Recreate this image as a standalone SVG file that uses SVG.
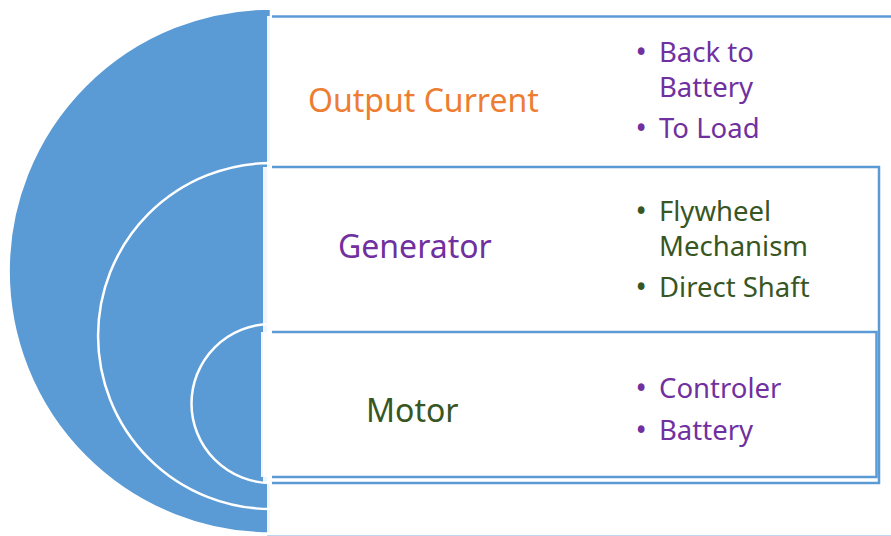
<svg xmlns="http://www.w3.org/2000/svg" width="891" height="536" viewBox="0 0 891 536">
  <style>
    .arc { fill: #5b9bd5; stroke: #ffffff; stroke-width: 2.5; }
    .panel { fill: #ffffff; fill-opacity: 0.9; stroke: none; }
    .edge { fill: none; stroke: #5b9bd5; stroke-width: 2.5; }
    .faint { fill: none; stroke: #bdd7ee; stroke-width: 1; }
    .title { font-family: "Noto Sans", "Open Sans", sans-serif; font-size: 32px; }
    .item { font-family: "Noto Sans", "Open Sans", sans-serif; font-size: 27.5px; }
    .dot { font-family: "Noto Sans", "Open Sans", sans-serif; font-size: 30px; }
    .orange { fill: #ed7d31; }
    .purple { fill: #7030a0; }
    .green { fill: #375623; }
  </style>
  <rect width="891" height="536" fill="#ffffff"/>
  <g id="arcs">
    <path id="arc-outer" class="arc" d="M 271 8.5 A 262.5 262.5 0 0 0 271 533.5 Z"/>
    <path id="arc-middle" class="arc" d="M 271 163 A 173 173 0 0 0 271 509 Z"/>
    <path id="arc-inner" class="arc" d="M 271 324 A 79.5 79.5 0 0 0 271 483 Z"/>
  </g>
  <g id="node-output">
    <rect class="panel" x="267" y="16" width="640" height="522"/>
    <path class="edge" d="M 272 16.5 H 900"/>
    <path class="faint" d="M 267 535.5 H 900"/>
    <text class="title orange" x="308" y="111.5">Output Current</text>
    <text class="dot purple" x="635.5" y="63">•</text>
    <text class="item purple" x="659" y="62">Back to</text>
    <text class="item purple" x="659" y="97">Battery</text>
    <text class="dot purple" x="635.5" y="139">•</text>
    <text class="item purple" x="659" y="138">To Load</text>
  </g>
  <g id="node-generator">
    <rect class="panel" x="263" y="167" width="616" height="316"/>
    <path class="edge" d="M 272 167 H 879 V 483 H 272"/>
    <text class="title purple" x="338" y="257.5">Generator</text>
    <text class="dot green" x="635.5" y="222">•</text>
    <text class="item green" x="659" y="221">Flywheel</text>
    <text class="item green" x="659" y="256">Mechanism</text>
    <text class="dot green" x="635.5" y="298">•</text>
    <text class="item green" x="659" y="297">Direct Shaft</text>
  </g>
  <g id="node-motor">
    <rect class="panel" x="261" y="332" width="616" height="145"/>
    <path class="edge" d="M 272 332 H 876.5 V 477 H 272"/>
    <text class="title green" x="366" y="421.5">Motor</text>
    <text class="dot purple" x="635.5" y="399">•</text>
    <text class="item purple" x="659" y="398">Controler</text>
    <text class="dot purple" x="635.5" y="441">•</text>
    <text class="item purple" x="659" y="440">Battery</text>
  </g>
  <g id="connectors"></g>
</svg>
